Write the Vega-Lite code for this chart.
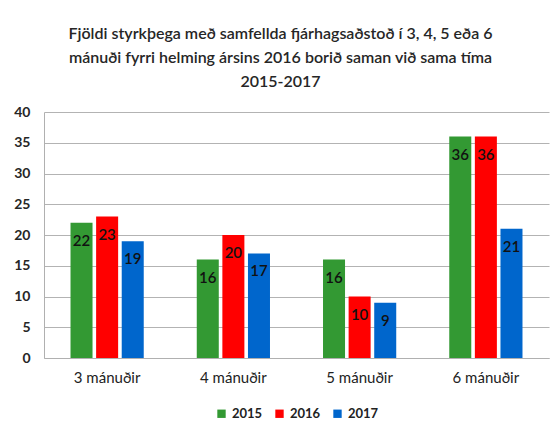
{
  "$schema": "https://vega.github.io/schema/vega-lite/v6.json",
  "width": 505,
  "height": 246,
  "autosize": {"type": "none"},
  "padding": {"left": 44, "top": 112, "right": 10, "bottom": 72},
  "background": "white",
  "title": {
    "text": ["Fjöldi styrkþega með samfellda fjárhagsaðstoð í 3, 4, 5 eða 6", "mánuði fyrri helming ársins 2016 borið saman við sama tíma", "2015-2017"],
    "font": "Lato",
    "fontSize": 16,
    "fontWeight": 600,
    "color": "#262626",
    "lineHeight": 24,
    "anchor": "middle",
    "dx": -16,
    "offset": 15
  },
  "data": {
    "values": [
      {"group": "3 mánuðir", "year": "2015", "value": 22},
      {"group": "3 mánuðir", "year": "2016", "value": 23},
      {"group": "3 mánuðir", "year": "2017", "value": 19},
      {"group": "4 mánuðir", "year": "2015", "value": 16},
      {"group": "4 mánuðir", "year": "2016", "value": 20},
      {"group": "4 mánuðir", "year": "2017", "value": 17},
      {"group": "5 mánuðir", "year": "2015", "value": 16},
      {"group": "5 mánuðir", "year": "2016", "value": 10},
      {"group": "5 mánuðir", "year": "2017", "value": 9},
      {"group": "6 mánuðir", "year": "2015", "value": 36},
      {"group": "6 mánuðir", "year": "2016", "value": 36},
      {"group": "6 mánuðir", "year": "2017", "value": 21}
    ]
  },
  "encoding": {
    "x": {
      "field": "group",
      "type": "nominal",
      "sort": null,
      "scale": {"paddingInner": 0.42, "paddingOuter": 0.21},
      "axis": {
        "title": null,
        "labelAngle": 0,
        "labelFont": "Lato",
        "labelFontSize": 15,
        "labelColor": "#222222",
        "labelPadding": 12,
        "ticks": false,
        "domainColor": "#b0b0b0",
        "grid": false
      }
    },
    "xOffset": {"field": "year", "type": "nominal", "scale": {"paddingInner": 0.14, "paddingOuter": 0}},
    "y": {
      "field": "value",
      "type": "quantitative",
      "scale": {"domain": [0, 40]},
      "axis": {
        "title": null,
        "values": [0, 5, 10, 15, 20, 25, 30, 35, 40],
        "labelFont": "Lato",
        "labelFontSize": 14,
        "labelFontWeight": "bold",
        "labelColor": "#262626",
        "labelPadding": 14,
        "ticks": false,
        "domainColor": "#b0b0b0",
        "gridColor": "#b3b3b3",
        "gridWidth": 1.2
      }
    }
  },
  "layer": [
    {
      "mark": {"type": "bar"},
      "encoding": {
        "color": {
          "field": "year",
          "type": "nominal",
          "scale": {"domain": ["2015", "2016", "2017"], "range": ["#339933", "#ff0000", "#0066cc"]},
          "legend": {
            "title": null,
            "orient": "bottom",
            "direction": "horizontal",
            "symbolType": "square",
            "symbolSize": 70,
            "labelFont": "Lato",
            "labelFontSize": 13,
            "labelFontWeight": "bold",
            "labelColor": "#222222",
            "columnPadding": 10,
            "offset": 22
          }
        }
      }
    },
    {
      "mark": {"type": "text", "baseline": "middle", "dy": 18, "font": "Lato", "fontSize": 15, "fontWeight": 600, "color": "#111111"},
      "encoding": {"text": {"field": "value", "type": "quantitative"}}
    }
  ],
  "config": {
    "view": {"stroke": null},
    "legend": {"layout": {"bottom": {"anchor": "middle"}}}
  }
}
